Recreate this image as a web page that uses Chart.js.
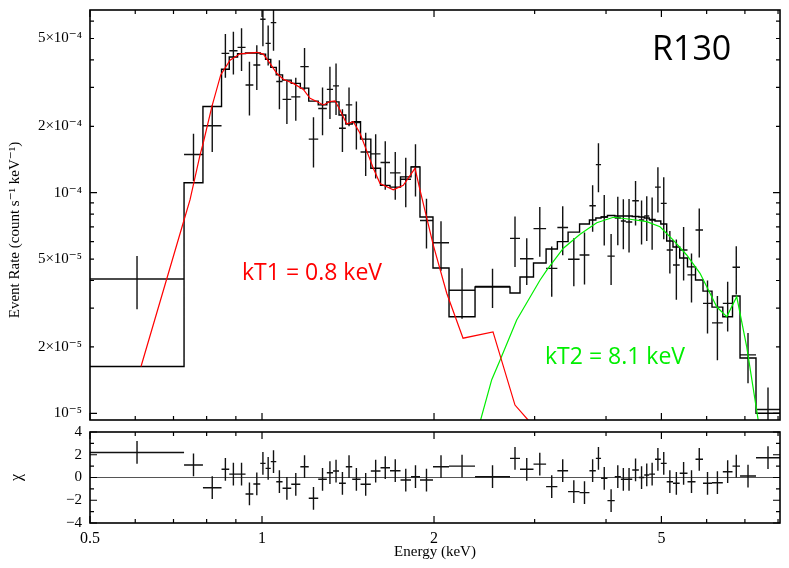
<!DOCTYPE html>
<html><head><meta charset="utf-8">
<script src="https://cdn.jsdelivr.net/npm/chart.js@4.4.1/dist/chart.umd.min.js"></script>
<style>
html,body{margin:0;padding:0;background:#fff;}
#wrap{position:relative;width:789px;height:568px;overflow:hidden;}
#c1{position:absolute;left:0;top:0;}
#c2{position:absolute;left:0;top:420px;}
</style></head><body>
<div id="wrap">
<canvas id="c1" width="789" height="430"></canvas>
<canvas id="c2" width="789" height="148"></canvas>
</div>
<script>
// ---------- DATA ----------
const binEdges = [0.5, 0.7304, 0.7882, 0.8495, 0.8763, 0.9061, 0.9358, 0.9657, 0.9930, 1.0144, 1.0359, 1.0591, 1.0863, 1.1250, 1.1670, 1.2072, 1.2543, 1.2985, 1.3314, 1.3639, 1.4018, 1.4384, 1.4874, 1.5504, 1.6121, 1.6749, 1.7474, 1.8228, 1.8900, 1.9917, 2.1247, 2.3595, 2.7165, 2.8282, 2.9863, 3.1417, 3.2878, 3.4328, 3.5955, 3.7411, 3.8391, 3.9205, 4.0230, 4.1430, 4.2461, 4.3325, 4.4457, 4.5657, 4.6661, 4.7611, 4.8728, 4.9879, 5.1078, 5.2392, 5.3827, 5.5545, 5.7366, 5.9128, 6.1310, 6.4040, 6.6592, 6.8637, 7.3200, 8.0635];
const rate = [4.06e-5, 1.49e-4, 2.01e-4, 4.28e-4, 4.40e-4, 4.56e-4, 3.08e-4, 3.79e-4, 6.11e-4, 4.75e-4, 5.90e-4, 3.19e-4, 2.65e-4, 2.72e-4, 3.73e-4, 1.75e-4, 2.41e-4, 2.94e-4, 3.05e-4, 1.96e-4, 2.50e-4, 2.08e-4, 1.53e-4, 1.50e-4, 1.37e-4, 1.23e-4, 1.15e-4, 1.31e-4, 7.48e-5, 5.93e-5, 3.61e-5, 3.76e-5, 6.21e-5, 5.02e-5, 6.87e-5, 4.54e-5, 6.95e-5, 4.99e-5, 5.22e-5, 8.73e-5, 1.34e-4, 7.76e-5, 5.16e-5, 7.68e-5, 7.44e-5, 7.36e-5, 9.20e-5, 7.52e-5, 7.84e-5, 7.52e-5, 1.06e-4, 8.95e-5, 5.50e-5, 4.70e-5, 5.50e-5, 4.24e-5, 6.78e-5, 3.15e-5, 2.57e-5, 3.15e-5, 4.59e-5, 1.84e-5, 1.04e-5];
const rateErr = [1.1e-5, 3.6e-5, 4.8e-5, 9.6e-5, 9.7e-5, 1.0e-4, 8.4e-5, 8.7e-5, 1.5e-4, 9.8e-5, 1.5e-4, 8.0e-5, 6.0e-5, 6.0e-5, 8.0e-5, 4.5e-5, 5.9e-5, 7.8e-5, 8.0e-5, 4.3e-5, 5.0e-5, 5.1e-5, 3.4e-5, 3.4e-5, 3.4e-5, 3.0e-5, 2.9e-5, 3.5e-5, 1.9e-5, 1.5e-5, 9.3e-6, 7.6e-6, 1.6e-5, 1.2e-5, 1.75e-5, 1.16e-5, 1.74e-5, 1.22e-5, 1.38e-5, 2.07e-5, 3.35e-5, 2.0e-5, 1.34e-5, 1.9e-5, 1.9e-5, 2.0e-5, 2.1e-5, 1.7e-5, 1.8e-5, 2.0e-5, 2.46e-5, 2.8e-5, 1.2e-5, 1.43e-5, 1.5e-5, 1.06e-5, 1.7e-5, 8.5e-6, 8.3e-6, 8.0e-6, 1.13e-5, 4.7e-6, 2.7e-6];
const modelRate = [1.63e-5, 1.11e-4, 2.46e-4, 3.63e-4, 4.12e-4, 4.27e-4, 4.30e-4, 4.30e-4, 4.25e-4, 4.02e-4, 3.70e-4, 3.42e-4, 3.24e-4, 3.13e-4, 2.98e-4, 2.60e-4, 2.50e-4, 2.58e-4, 2.58e-4, 2.25e-4, 2.05e-4, 2.10e-4, 1.75e-4, 1.29e-4, 1.08e-4, 1.06e-4, 1.18e-4, 1.31e-4, 7.76e-5, 4.56e-5, 2.74e-5, 3.74e-5, 3.51e-5, 4.15e-5, 4.80e-5, 5.56e-5, 6.00e-5, 6.63e-5, 7.21e-5, 7.52e-5, 7.68e-5, 7.76e-5, 7.88e-5, 7.84e-5, 7.84e-5, 7.84e-5, 7.80e-5, 7.76e-5, 7.68e-5, 7.56e-5, 7.44e-5, 7.21e-5, 6.04e-5, 5.67e-5, 5.06e-5, 4.61e-5, 4.02e-5, 3.58e-5, 3.03e-5, 2.74e-5, 3.40e-5, 1.78e-5, 1.00e-5];
const chi = [2.2, 1.1, -0.9, 0.72, 0.3, 0.3, -1.45, -0.57, 1.24, 0.8, 1.4, -0.37, -0.95, -0.6, 0.95, -1.83, -0.16, 0.42, 0.57, -0.51, 0.95, -0.16, -0.6, 0.57, 0.86, 0.6, -0.22, 0.07, -0.22, 0.95, 1.0, 0.07, 1.68, 0.72, 1.18, -0.8, 0.6, -1.24, -1.33, 0.6, 1.68, -0.07, -2.03, 0.07, -0.16, -0.16, 0.66, 0.0, 0.22, 0.3, 1.6, 1.24, -0.37, -0.51, 0.37, -0.37, 1.6, -0.51, -0.46, 0.51, 1.0, 0.13, 1.74];
const kT1Energy = [0.6141, 0.7304, 0.7481, 0.7789, 0.7891, 0.8173, 0.8467, 0.8791, 0.9152, 0.9802, 1.0055, 1.0327, 1.0612, 1.0897, 1.1345, 1.1812, 1.2135, 1.2468, 1.2804, 1.3154, 1.3421, 1.3694, 1.4069, 1.4447, 1.4843, 1.5348, 1.5661, 1.6089, 1.6973, 1.7671, 1.8525, 1.8900, 1.9942, 2.1052, 2.2482, 2.5368, 2.7717, 2.9242, 3.0666];
const kT1Rate = [1.63e-5, 7.52e-5, 9.27e-5, 1.48e-4, 1.68e-4, 2.46e-4, 3.42e-4, 3.99e-4, 4.26e-4, 4.33e-4, 4.25e-4, 3.86e-4, 3.48e-4, 3.27e-4, 3.13e-4, 2.94e-4, 2.68e-4, 2.59e-4, 2.50e-4, 2.59e-4, 2.61e-4, 2.37e-4, 2.05e-4, 2.10e-4, 1.86e-4, 1.48e-4, 1.29e-4, 1.10e-4, 1.03e-4, 1.08e-4, 1.29e-4, 1.03e-4, 5.79e-5, 3.50e-5, 2.19e-5, 2.34e-5, 1.09e-5, 9.3e-6, 8.1e-6];
const kT2Energy = [2.3518, 2.4074, 2.5236, 2.6094, 2.7908, 3.0666, 3.1505, 3.3684, 3.6028, 3.8531, 4.1197, 4.4064, 4.7134, 4.9719, 5.2455, 5.5365, 5.8420, 6.0820, 6.2485, 6.5055, 6.7730, 7.0515, 7.3880, 7.4990];
const kT2Rate = [7.57e-6, 9.13e-6, 1.42e-5, 1.74e-5, 2.65e-5, 4.02e-5, 4.46e-5, 5.60e-5, 6.48e-5, 7.31e-5, 7.74e-5, 7.58e-5, 7.39e-5, 7.01e-5, 6.10e-5, 5.22e-5, 4.31e-5, 3.50e-5, 3.04e-5, 2.74e-5, 3.38e-5, 2.00e-5, 9.26e-6, 7.57e-6];

const energyTickValues = [0.5, 1, 2, 5];
const energyTickLabels = ['0.5', '1', '2', '5'];
const energyMinorTicks = [0.6, 0.7, 0.8, 0.9, 3, 4, 6, 7, 8];
const rateTickValues = [1e-5, 2e-5, 5e-5, 1e-4, 2e-4, 5e-4];
const rateTickLabels = ['10\u207B\u2075', '2\u00D710\u207B\u2075', '5\u00D710\u207B\u2075', '10\u207B\u2074', '2\u00D710\u207B\u2074', '5\u00D710\u207B\u2074'];
const rateMinorTicks = [3e-5, 4e-5, 6e-5, 7e-5, 8e-5, 9e-5, 3e-4, 4e-4, 6e-4];
const chiTickValues = [-4, -2, 0, 2, 4];
const chiTickLabels = ['\u22124', '\u22122', '0', '2', '4'];
const chiMinorTicks = [-3, -1, 1, 3];

const E_MIN = 0.5, E_MAX = 8.0635;
const R_MIN = 9.325e-6, R_MAX = 6.733e-4;

// ---------- helpers ----------
const SERIF = '"Liberation Serif", "DejaVu Serif", serif';
const SANS = '"Open Sans", "Noto Sans", sans-serif';
function labelFor(v, vals, labels) {
  for (let i = 0; i < vals.length; i++) {
    if (Math.abs(v - vals[i]) <= Math.abs(vals[i]) * 1e-6 + 1e-12) return labels[i];
  }
  return '';
}
function tickList(majors, minors) {
  return majors.map(v => ({v, major: true})).concat(minors.map(v => ({v, major: false})));
}
const centers = rate.map((_, i) => Math.sqrt(binEdges[i] * binEdges[i + 1]));

const stepData = [];
modelRate.forEach((m, i) => { stepData.push({x: binEdges[i], y: m}, {x: binEdges[i + 1], y: m}); });

const crossTop = [];
rate.forEach((r, i) => {
  crossTop.push({x: binEdges[i], y: r}, {x: binEdges[i + 1], y: r}, {x: centers[i], y: null},
                {x: centers[i], y: r + rateErr[i]}, {x: centers[i], y: r - rateErr[i]}, {x: centers[i], y: null});
});
const crossChi = [];
chi.forEach((c, i) => {
  crossChi.push({x: binEdges[i], y: c}, {x: binEdges[i + 1], y: c}, {x: centers[i], y: null},
                {x: centers[i], y: c + 1}, {x: centers[i], y: c - 1}, {x: centers[i], y: null});
});
const kT1Data = kT1Energy.map((e, i) => ({x: e, y: kT1Rate[i]}));
const kT2Data = kT2Energy.map((e, i) => ({x: e, y: kT2Rate[i]}));

// ---------- plugin: frame with inward ticks + text ----------
const framePlugin = {
  id: 'frame',
  afterDraw(chart, args, opts) {
    const {ctx, chartArea: a, scales} = chart;
    ctx.save();
    ctx.strokeStyle = '#000';
    ctx.lineWidth = 1.2;
    ctx.beginPath();
    (opts.xTicks || []).forEach(t => {
      const px = scales.x.getPixelForValue(t.v);
      const L = t.major ? 7 : 4;
      ctx.moveTo(px, a.top); ctx.lineTo(px, a.top + L);
      ctx.moveTo(px, a.bottom); ctx.lineTo(px, a.bottom - L);
    });
    (opts.yTicks || []).forEach(t => {
      const py = scales.y.getPixelForValue(t.v);
      const L = t.major ? 7 : 4;
      ctx.moveTo(a.left, py); ctx.lineTo(a.left + L, py);
      ctx.moveTo(a.right, py); ctx.lineTo(a.right - L, py);
    });
    ctx.stroke();
    ctx.lineWidth = 1.6;
    ctx.strokeRect(a.left, a.top, a.right - a.left, a.bottom - a.top);
    (opts.texts || []).forEach(t => {
      ctx.save();
      ctx.fillStyle = t.color;
      ctx.font = t.font;
      ctx.textAlign = t.align || 'left';
      ctx.textBaseline = t.baseline || 'alphabetic';
      ctx.translate(t.x, t.y);
      if (t.rotate) ctx.rotate(t.rotate);
      ctx.fillText(t.text, 0, 0);
      ctx.restore();
    });
    ctx.restore();
  }
};

const lineDs = (data, color, width) => ({data, showLine: true, borderColor: color, borderWidth: width,
  pointRadius: 0, pointHoverRadius: 0, fill: false, tension: 0, spanGaps: false});

// invisible tick marks reserve the gap between axis and labels (keeps label padding at 0)
const hiddenGridY = {display: true, drawOnChartArea: false, drawTicks: true, tickLength: 8, color: 'rgba(0,0,0,0)'};
const hiddenGridX = {display: true, drawOnChartArea: false, drawTicks: true, tickLength: 5, color: 'rgba(0,0,0,0)'};

// ---------- top panel ----------
new Chart(document.getElementById('c1'), {
  type: 'scatter',
  data: {datasets: [
    lineDs(kT1Data, '#ff0000', 1.2),
    lineDs(kT2Data, '#00ee00', 1.2),
    lineDs(stepData, '#000000', 1.4),
    lineDs(crossTop, '#111111', 1.4)
  ]},
  options: {
    responsive: false, animation: false, events: [],
    layout: {padding: {top: 10, right: 9, left: 0, bottom: 0}},
    plugins: {
      legend: {display: false}, tooltip: {enabled: false},
      frame: {
        xTicks: tickList(energyTickValues, energyMinorTicks),
        yTicks: tickList(rateTickValues.filter(v => [1e-5, 1e-4].includes(v)),
                         rateTickValues.filter(v => ![1e-5, 1e-4].includes(v)).concat(rateMinorTicks)),
        texts: [
          {text: 'R130', x: 652, y: 60, color: '#000', font: '34px ' + SANS},
          {text: 'kT1 = 0.8 keV', x: 242, y: 280, color: '#ff0000', font: '23px ' + SANS},
          {text: 'kT2 = 8.1 keV', x: 545, y: 364, color: '#00ee00', font: '23px ' + SANS},
          {text: 'Event Rate (count s\u207B\u00B9 keV\u207B\u00B9)', x: 15, y: 230, color: '#000',
           font: '15px ' + SERIF, align: 'center', baseline: 'middle', rotate: -Math.PI / 2}
        ]
      }
    },
    scales: {
      x: {type: 'logarithmic', min: E_MIN, max: E_MAX,
          afterBuildTicks: s => { s.ticks = energyTickValues.concat(energyMinorTicks).map(v => ({value: v})); },
          ticks: {display: false}, grid: {display: false, drawTicks: false}, border: {display: false},
          afterFit: s => { s.height = 10; }},
      y: {type: 'logarithmic', min: R_MIN, max: R_MAX,
          afterBuildTicks: s => { s.ticks = rateTickValues.map(v => ({value: v})); },
          ticks: {autoSkip: false, padding: 0, color: '#000', font: {family: SERIF, size: 15},
                  callback: v => labelFor(v, rateTickValues, rateTickLabels)},
          grid: hiddenGridY, border: {display: false},
          afterFit: s => { s.width = 90; }}
    }
  },
  plugins: [framePlugin]
});

// ---------- residual panel ----------
new Chart(document.getElementById('c2'), {
  type: 'scatter',
  data: {datasets: [
    lineDs(crossChi, '#111111', 1.4),
    lineDs([{x: E_MIN, y: 0}, {x: E_MAX, y: 0}], '#555555', 1.2)
  ]},
  options: {
    responsive: false, animation: false, events: [],
    layout: {padding: {top: 12, right: 9, left: 0, bottom: 0}},
    plugins: {
      legend: {display: false}, tooltip: {enabled: false},
      frame: {
        xTicks: tickList(energyTickValues, energyMinorTicks),
        yTicks: tickList(chiTickValues, chiMinorTicks)
      }
    },
    scales: {
      x: {type: 'logarithmic', min: E_MIN, max: E_MAX,
          afterBuildTicks: s => { s.ticks = energyTickValues.map(v => ({value: v})); },
          ticks: {autoSkip: false, maxRotation: 0, padding: 1, color: '#000', font: {family: SERIF, size: 16},
                  callback: v => labelFor(v, energyTickValues, energyTickLabels)},
          grid: hiddenGridX, border: {display: false},
          title: {display: true, text: 'Energy (keV)', color: '#000', font: {family: SERIF, size: 15},
                  padding: {top: 0, bottom: 7}},
          afterFit: s => { s.height = 45; }},
      y: {type: 'linear', min: -4, max: 4,
          afterBuildTicks: s => { s.ticks = chiTickValues.map(v => ({value: v})); },
          ticks: {autoSkip: false, padding: 0, color: '#000', font: {family: SERIF, size: 15},
                  callback: v => labelFor(v, chiTickValues, chiTickLabels)},
          grid: hiddenGridY, border: {display: false},
          title: {display: true, text: '\u03C7', color: '#000', font: {family: SERIF, size: 16},
                  padding: {top: 7, bottom: 0}},
          afterFit: s => { s.width = 90; }}
    }
  },
  plugins: [framePlugin]
});
</script>
</body></html>
